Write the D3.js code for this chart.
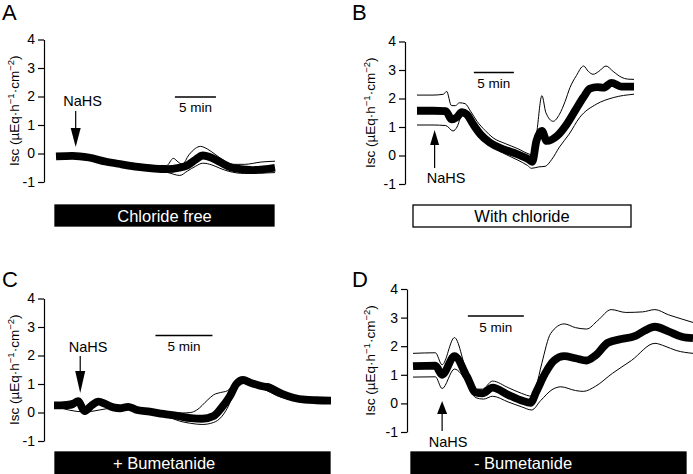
<!DOCTYPE html>
<html><head><meta charset="utf-8">
<script src="https://cdn.jsdelivr.net/npm/d3@7"></script>
<style>
html,body{margin:0;padding:0;background:#fff;}
text{font-family:"Liberation Sans",Arial,Helvetica,sans-serif;}
</style></head>
<body>
<svg id="chart" width="693" height="474"></svg>
<script>
// ---------- DATA (time in minutes, Isc in µEq·h-1·cm-2) ----------
const yTicks = [-1, 0, 1, 2, 3, 4];
const panelLetters = ["A", "B", "C", "D"];
const conditionLabels = ["Chloride free", "With chloride", "+ Bumetanide", "- Bumetanide"];
const scaleBarLabel = "5 min";
const scaleBarMinutes = 5;
const nahsTimes = [2.4, 2.2, 2.3, 2.6];
const scaleBarStarts = [14.5, 7.1, 8.9, 4.9];
const durations = [26.7, 27.1, 24.3, 25];

// Panel A
const tMeanA = [0, 2, 4, 6, 8, 10, 12, 13.5, 15, 16, 17, 17.9, 19, 20, 21, 22.5, 24, 26.7];
const meanA  = [-0.1, -0.08, -0.14, -0.28, -0.38, -0.47, -0.53, -0.55, -0.5, -0.42, -0.22, -0.07, -0.15, -0.3, -0.45, -0.55, -0.58, -0.5];
const tUpA = [0, 2, 4, 6, 8, 10, 12, 13.5, 14.3, 14.9, 15.4, 16.2, 17, 17.6, 18.5, 19.5, 20.5, 21.5, 23, 25, 26.7];
const upA  = [-0.05, -0.03, -0.08, -0.2, -0.3, -0.38, -0.42, -0.42, -0.17, -0.3, -0.38, -0.05, 0.18, 0.25, 0.15, -0.05, -0.25, -0.38, -0.38, -0.3, -0.27];
const tLoA = [0, 4, 8, 12, 13.5, 15.1, 16, 17, 17.9, 19, 20, 21, 23, 26.7];
const loA  = [-0.15, -0.2, -0.45, -0.62, -0.66, -0.77, -0.62, -0.45, -0.34, -0.4, -0.52, -0.62, -0.7, -0.67];

// Panel B
const tMeanB = [0, 2, 3.6, 4.3, 5.0, 5.6, 6.2, 7.0, 7.9, 9.1, 10.8, 12.5, 13.9, 14.4, 14.9, 15.6, 16.2, 17.5, 18.7, 19.8, 20.8, 21.6, 22.5, 23.3, 24.3, 25.5, 27.1];
const meanB  = [1.57, 1.57, 1.56, 1.27, 1.35, 1.52, 1.45, 1.1, 0.75, 0.45, 0.22, 0.05, -0.13, -0.22, 0.5, 0.86, 0.51, 0.69, 1.1, 1.6, 2.05, 2.35, 2.4, 2.38, 2.55, 2.42, 2.42];
const tUpB = [0, 2, 3.3, 3.7, 4.3, 4.8, 5.3, 6.0, 6.7, 7.5, 8.5, 9.5, 11, 12.5, 14, 14.6, 15.0, 15.6, 16.1, 17.0, 17.8, 18.5, 19.1, 19.9, 20.8, 21.4, 22.0, 22.7, 23.6, 24.5, 25.5, 26.3, 27.1];
const upB  = [2.12, 2.12, 2.15, 2.25, 1.75, 1.75, 1.85, 1.82, 1.55, 1.2, 0.88, 0.62, 0.42, 0.25, 0.05, 0.0, 0.9, 2.1, 1.5, 1.2, 1.45, 1.9, 2.38, 2.8, 3.14, 2.95, 2.85, 2.95, 3.14, 2.95, 2.75, 2.68, 2.67];
const tLoB = [0, 2, 3.6, 4.5, 5.0, 5.6, 6.5, 7.5, 8.5, 9.5, 11, 12.5, 13.8, 14.3, 15.2, 16.0, 16.8, 17.8, 19, 20.3, 22.4, 24.5, 27.1];
const loB  = [1.07, 1.07, 1.05, 0.86, 1.0, 1.4, 1.2, 0.85, 0.55, 0.3, 0.05, -0.15, -0.35, -0.45, -0.4, -0.38, -0.15, 0.3, 0.75, 1.33, 1.8, 2.03, 2.15];

// Panel C
const tMeanC = [0, 1.5, 2.1, 2.7, 3.3, 3.9, 4.5, 5.2, 5.8, 6.5, 7.2, 8.4, 9.6, 10.8, 12, 13, 14, 14.6, 15.4, 16, 16.6, 17.2, 18, 19, 20, 21, 22, 23, 24.3];
const meanC  = [0.25, 0.27, 0.4, 0.05, 0.25, 0.38, 0.3, 0.18, 0.15, 0.2, 0.1, 0.03, -0.05, -0.12, -0.2, -0.22, -0.12, 0.12, 0.55, 1.0, 1.14, 1.05, 0.95, 0.85, 0.65, 0.52, 0.45, 0.43, 0.42];
const tUpC = [0, 2.1, 2.7, 3.9, 5.2, 6.5, 8.4, 9.6, 11, 12, 12.5, 13.5, 14, 14.6, 15.2, 15.8, 16.5, 17.2, 18, 18.7, 20, 21, 22, 24.3];
const upC  = [0.28, 0.43, 0.08, 0.41, 0.21, 0.23, 0.06, 0.0, -0.02, 0.0, 0.08, 0.45, 0.62, 0.7, 0.76, 1.0, 1.2, 1.1, 1.0, 1.02, 0.72, 0.56, 0.48, 0.45];
const tLoC = [0, 2.7, 5.2, 8.4, 9.6, 10, 11, 12, 13, 14, 14.7, 15.2, 15.9, 16.6, 17.5, 18.5, 19.5, 20.5, 22, 24.3];
const loC  = [0.22, 0.02, 0.15, 0.0, -0.1, -0.15, -0.3, -0.38, -0.42, -0.35, -0.15, 0.15, 0.75, 1.05, 0.92, 0.8, 0.6, 0.47, 0.4, 0.38];

// Panel D
const tMeanD = [0, 2, 2.6, 3.7, 4.8, 5.6, 6.2, 7.1, 8.5, 9.7, 10.5, 11.0, 11.8, 12.6, 13.5, 14.5, 15.5, 16.3, 17.4, 18.6, 19.8, 20.7, 21.6, 22.8, 24, 25];
const meanD  = [1.3, 1.32, 1.0, 1.65, 0.95, 0.38, 0.35, 0.55, 0.3, 0.1, 0.02, 0.4, 1.05, 1.5, 1.65, 1.58, 1.5, 1.68, 2.12, 2.25, 2.35, 2.55, 2.68, 2.52, 2.33, 2.28];
const tUpD = [0, 2, 2.6, 3.7, 4.8, 5.6, 6.2, 7.1, 8.5, 9.7, 10.6, 11.0, 11.5, 12.3, 13.5, 14.5, 15.5, 16.5, 17.7, 19, 20.5, 21.6, 22.8, 24, 25];
const upD  = [1.75, 1.77, 1.35, 2.3, 1.1, 0.5, 0.5, 0.78, 0.55, 0.35, 0.25, 0.6, 1.4, 2.45, 2.78, 2.65, 2.6, 2.9, 3.28, 3.18, 3.2, 3.28, 3.1, 2.95, 2.83];
const tLoD = [0, 2, 2.6, 3.7, 4.8, 5.6, 6.3, 7.1, 8.5, 9.7, 10.6, 11.4, 12.5, 13.2, 14.5, 15.2, 16.3, 17.8, 19.5, 21.6, 22.5, 23.5, 25];
const loD  = [0.92, 0.93, 0.52, 1.2, 0.75, 0.2, 0.15, 0.25, 0.05, -0.12, -0.23, 0.1, 0.5, 0.58, 0.45, 0.42, 0.6, 1.05, 1.5, 2.1, 2.0, 1.85, 1.75];

// ---------- LAYOUT ----------
const layouts = [
  {xr:[56,275], yr:[182,39.5], axisX:44, letter:[2,20], ylabX:18.5, arrow:{dir:"down", top:111, base:128, tip:147, hw:5}, nahsText:[82.5,106], bar:{y:97, textY:112}, box:{x0:55, x1:274, y0:205, y1:226, fill:"#000", text:"#fff", tx:null, ty:222}},
  {xr:[417,634], yr:[184,41.5], axisX:405, letter:[352,20], ylabX:374.5, arrow:{dir:"up", top:168, base:145, tip:130, hw:4.5}, nahsText:[446,183], bar:{y:72.5, textY:87.5}, box:{x0:413, x1:631, y0:205, y1:227, fill:"#fff", text:"#000", tx:null, ty:222}},
  {xr:[54,331], yr:[441,298.5], axisX:44, letter:[2,287], ylabX:18.5, arrow:{dir:"down", top:356, base:371, tip:393, hw:5}, nahsText:[88,352], bar:{y:335.5, textY:350.5}, box:{x0:55, x1:330, y0:452, y1:480, fill:"#000", text:"#fff", tx:113, ty:469}},
  {xr:[413,693], yr:[432,289], axisX:407, letter:[352,287], ylabX:374.5, arrow:{dir:"up", top:431, base:414, tip:401, hw:5}, nahsText:[448,446.5], bar:{y:316, textY:332}, box:{x0:411, x1:686, y0:452, y1:480, fill:"#000", text:"#fff", tx:474, ty:469}}
];
const series = [
  {tm:tMeanA, m:meanA, tu:tUpA, u:upA, tl:tLoA, l:loA},
  {tm:tMeanB, m:meanB, tu:tUpB, u:upB, tl:tLoB, l:loB},
  {tm:tMeanC, m:meanC, tu:tUpC, u:upC, tl:tLoC, l:loC},
  {tm:tMeanD, m:meanD, tu:tUpD, u:upD, tl:tLoD, l:loD}
];

const svg = d3.select("#chart");
svg.append("rect").attr("width",693).attr("height",474).attr("fill","#fff");

layouts.forEach((L, i) => {
  const S = series[i];
  const g = svg.append("g");
  const x = d3.scaleLinear().domain([0, durations[i]]).range(L.xr);
  const y = d3.scaleLinear().domain([-1, 4]).range(L.yr);

  g.append("rect").attr("x", L.box.x0).attr("y", L.box.y0)
    .attr("width", L.box.x1 - L.box.x0).attr("height", L.box.y1 - L.box.y0)
    .attr("fill", L.box.fill).attr("stroke", "#000").attr("stroke-width", 1.3);
  g.append("text").attr("x", L.box.tx == null ? (L.box.x0 + L.box.x1) / 2 : L.box.tx)
    .attr("y", L.box.ty).attr("text-anchor", L.box.tx == null ? "middle" : "start")
    .attr("font-size", 16.5).attr("fill", L.box.text).text(conditionLabels[i]);

  const ax = g.append("g").attr("transform", `translate(${L.axisX},0)`)
    .call(d3.axisLeft(y).tickValues(yTicks).tickSize(6).tickSizeOuter(0).tickPadding(3).tickFormat(d3.format("d")));
  ax.select(".domain").attr("stroke", "#000").attr("stroke-width", 1.2);
  ax.selectAll(".tick line").attr("stroke", "#000").attr("stroke-width", 1.2);
  ax.selectAll(".tick text").attr("font-size", 14).attr("fill", "#000")
    .attr("font-family", "Liberation Sans, Arial, sans-serif").text(d => d < 0 ? "-" + Math.abs(d) : d);

  const cy = (L.yr[0] + L.yr[1]) / 2;
  const yl = g.append("text").attr("transform", `translate(${L.ylabX},${cy}) rotate(-90)`)
    .attr("text-anchor", "middle").attr("font-size", 13.5).attr("fill", "#000");
  yl.append("tspan").text("Isc (µEq·h");
  yl.append("tspan").attr("font-size", 9.5).attr("dy", -5).text("−1");
  yl.append("tspan").attr("dy", 5).text("·cm");
  yl.append("tspan").attr("font-size", 9.5).attr("dy", -5).text("−2");
  yl.append("tspan").attr("dy", 5).text(")");

  g.append("text").attr("x", L.letter[0]).attr("y", L.letter[1]).attr("font-size", 22).attr("fill", "#000").text(panelLetters[i]);

  const line = d3.line().x(d => x(d[0])).y(d => y(d[1])).curve(d3.curveMonotoneX);
  g.append("path").attr("d", line(d3.zip(S.tm, S.m))).attr("fill", "none").attr("stroke", "#000").attr("stroke-width", 7.8);
  g.append("path").attr("d", line(d3.zip(S.tu, S.u))).attr("fill", "none").attr("stroke", "#000").attr("stroke-width", 1);
  g.append("path").attr("d", line(d3.zip(S.tl, S.l))).attr("fill", "none").attr("stroke", "#000").attr("stroke-width", 1);

  g.append("line").attr("x1", x(scaleBarStarts[i])).attr("x2", x(scaleBarStarts[i] + scaleBarMinutes))
    .attr("y1", L.bar.y).attr("y2", L.bar.y).attr("stroke", "#000").attr("stroke-width", 1.5);
  g.append("text").attr("x", x(scaleBarStarts[i] + scaleBarMinutes / 2)).attr("y", L.bar.textY)
    .attr("text-anchor", "middle").attr("font-size", 13.5).attr("fill", "#000").text(scaleBarLabel);

  const ax0 = x(nahsTimes[i]);
  const A = L.arrow;
  g.append("line").attr("x1", ax0).attr("x2", ax0).attr("y1", A.top).attr("y2", A.base)
    .attr("stroke", "#000").attr("stroke-width", 1.2);
  g.append("path").attr("d", `M${ax0 - A.hw},${A.base}L${ax0 + A.hw},${A.base}L${ax0},${A.tip}Z`).attr("fill", "#000");
  g.append("text").attr("x", L.nahsText[0]).attr("y", L.nahsText[1]).attr("text-anchor", "middle")
    .attr("font-size", 14.5).attr("fill", "#000").text("NaHS");
});
</script>
</body></html>
